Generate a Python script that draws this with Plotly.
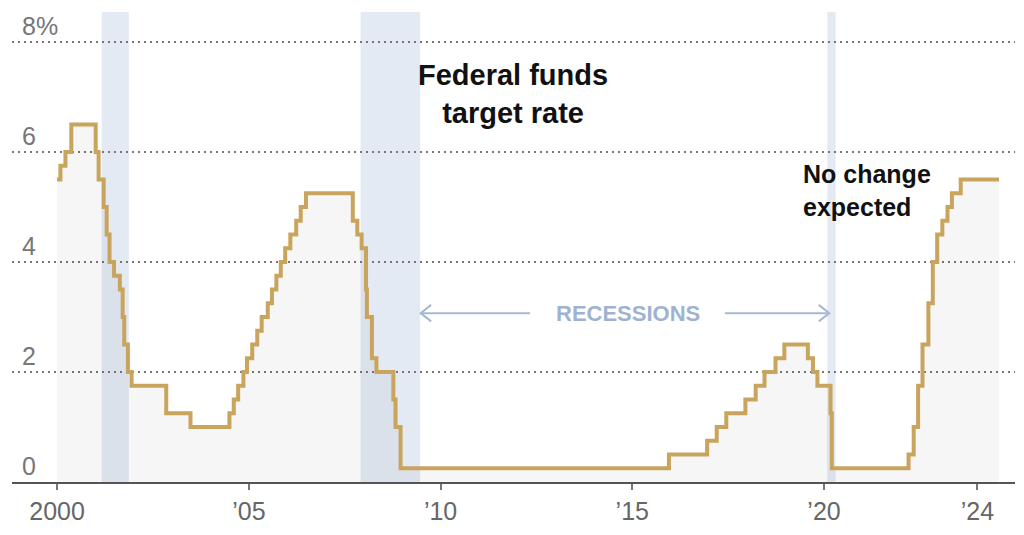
import pandas as pd
import plotly.graph_objects as go

# Federal funds target rate (upper bound), dates of changes
change_dates = [
    "2000-01-01", "2000-02-02", "2000-03-21", "2000-05-16",
    "2001-01-03", "2001-01-31", "2001-03-20", "2001-04-18", "2001-05-15",
    "2001-06-27", "2001-08-21", "2001-09-17", "2001-10-02", "2001-11-06",
    "2001-12-11", "2002-11-06", "2003-06-25",
    "2004-06-30", "2004-08-10", "2004-09-21", "2004-11-10", "2004-12-14",
    "2005-02-02", "2005-03-22", "2005-05-03", "2005-06-30", "2005-08-09",
    "2005-09-20", "2005-11-01", "2005-12-13",
    "2006-01-31", "2006-03-28", "2006-05-10", "2006-06-29",
    "2007-09-18", "2007-10-31", "2007-12-11",
    "2008-01-22", "2008-01-30", "2008-03-18", "2008-04-30", "2008-10-08",
    "2008-10-29", "2008-12-16",
    "2015-12-16", "2016-12-14",
    "2017-03-15", "2017-06-14", "2017-12-13",
    "2018-03-21", "2018-06-13", "2018-09-26", "2018-12-19",
    "2019-07-31", "2019-09-18", "2019-10-30",
    "2020-03-03", "2020-03-15",
    "2022-03-16", "2022-05-04", "2022-06-15", "2022-07-27", "2022-09-21",
    "2022-11-02", "2022-12-14",
    "2023-02-01", "2023-03-22", "2023-05-03", "2023-07-26",
    "2024-07-25",
]
rates = [
    5.50, 5.75, 6.00, 6.50,
    6.00, 5.50, 5.00, 4.50, 4.00,
    3.75, 3.50, 3.00, 2.50, 2.00,
    1.75, 1.25, 1.00,
    1.25, 1.50, 1.75, 2.00, 2.25,
    2.50, 2.75, 3.00, 3.25, 3.50,
    3.75, 4.00, 4.25,
    4.50, 4.75, 5.00, 5.25,
    4.75, 4.50, 4.25,
    3.50, 3.00, 2.25, 2.00, 1.50,
    1.00, 0.25,
    0.50, 0.75,
    1.00, 1.25, 1.50,
    1.75, 2.00, 2.25, 2.50,
    2.25, 2.00, 1.75,
    1.25, 0.25,
    0.50, 1.00, 1.75, 2.50, 3.25,
    4.00, 4.50,
    4.75, 5.00, 5.25, 5.50,
    5.50,
]

# Recessions (NBER)
recession_starts = ["2001-03-01", "2007-12-01", "2020-02-01"]
recession_ends = ["2001-11-15", "2009-06-20", "2020-04-20"]

tick_dates = ["2000-01-01", "2005-01-01", "2010-01-01", "2015-01-01", "2020-01-01", "2024-01-01"]
tick_labels = ["2000", "’05", "’10", "’15", "’20", "’24"]

y_ticks = [0, 2, 4, 6, 8]
y_labels = ["0", "2", "4", "6", "8%"]

LINE = "#c9a45c"
BAND = "#e3eaf4"
ARROW = "#a7b9d1"
FONT = "Liberation Sans, Arial, sans-serif"

dates = pd.to_datetime(change_dates)

fig = go.Figure()

# light fill under the line
fig.add_trace(go.Scatter(
    x=dates, y=rates, mode="lines", line=dict(shape="hv", width=0),
    fill="tozeroy", fillcolor="rgba(0,0,0,0.035)", hoverinfo="skip", showlegend=False,
))
# main step line
fig.add_trace(go.Scatter(
    x=dates, y=rates, mode="lines", line=dict(shape="hv", width=4, color=LINE),
    showlegend=False,
))

shapes = []
for s, e in zip(recession_starts, recession_ends):
    shapes.append(dict(type="rect", xref="x", yref="paper", x0=s, x1=e, y0=0, y1=1,
                       fillcolor=BAND, line=dict(width=0), layer="below"))

# recession arrows
ay = 3.07
def chevron(xtip, direction):
    tip = pd.Timestamp(xtip)
    back = tip + pd.Timedelta(days=-100 * direction)
    return dict(type="path", xref="x", yref="y",
                path=f"M {back.strftime('%Y-%m-%d')},{ay+0.15} L {tip.strftime('%Y-%m-%d')},{ay} L {back.strftime('%Y-%m-%d')},{ay-0.15}",
                line=dict(color=ARROW, width=2), layer="above")

shapes.append(dict(type="line", xref="x", yref="y", x0="2009-06-25", x1="2012-05-01", y0=ay, y1=ay,
                   line=dict(color=ARROW, width=2)))
shapes.append(dict(type="line", xref="x", yref="y", x0="2017-06-01", x1="2020-02-20", y0=ay, y1=ay,
                   line=dict(color=ARROW, width=2)))
shapes.append(chevron("2009-06-25", -1))
shapes.append(chevron("2020-02-20", 1))

annotations = [
    dict(x="2011-11-20", y=7.05, xref="x", yref="y", showarrow=False,
         text="Federal funds<br>target rate", align="center",
         font=dict(family=FONT, size=29, color="#111111", weight="bold")),
    dict(x="2019-05-25", y=5.3, xref="x", yref="y", showarrow=False, xanchor="left",
         text="No change<br>expected", align="left",
         font=dict(family=FONT, size=25, color="#111111", weight="bold")),
    dict(x="2014-11-25", y=ay, xref="x", yref="y", showarrow=False,
         text="RECESSIONS",
         font=dict(family=FONT, size=22, color="#9fb3d0", weight="bold")),
]
# y-axis labels sitting above their gridlines
for v, lab in zip(y_ticks, y_labels):
    annotations.append(dict(x=0, y=v, xref="paper", yref="y", xanchor="left", yanchor="bottom",
                            xshift=8, yshift=0, showarrow=False, text=lab,
                            font=dict(family=FONT, size=25, color="#777777")))

fig.update_layout(
    width=1008, height=519,
    margin=dict(l=4, r=1, t=4, b=45),
    paper_bgcolor="white", plot_bgcolor="white",
    shapes=shapes, annotations=annotations,
    showlegend=False,
    xaxis=dict(
        type="date",
        range=["1998-10-29", "2024-12-24"],
        tickvals=tick_dates, ticktext=tick_labels,
        showgrid=False, zeroline=False,
        showline=True, linecolor="#555555", linewidth=1.5,
        ticks="outside", ticklen=6, tickcolor="#777777", tickwidth=1.5,
        tickfont=dict(family=FONT, size=25, color="#666666"),
    ),
    yaxis=dict(
        range=[0, 8.545],
        tickvals=y_ticks, showticklabels=False,
        showgrid=True, gridcolor="#777777", gridwidth=1.5, griddash="2px,4px",
        zeroline=False, showline=False, ticks="",
    ),
)

fig.write_html("out.html")
